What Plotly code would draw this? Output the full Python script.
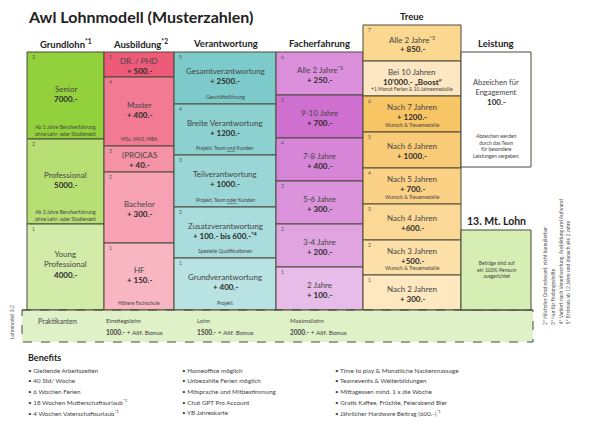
import plotly.graph_objects as go

# --- data -------------------------------------------------------------
grund_titles = ["Senior", "Professional", "Young<br>Professional"]
grund_amounts = ["7000.-", "5000.-", "4000.-"]
grund_notes = ["Ab 5 Jahre Berufserfahrung<br>ohne Lehr- oder Studienzeit",
               "Ab 3 Jahre Berufserfahrung<br>ohne Lehr- oder Studienzeit", ""]
grund_levels = [3, 2, 1]

ausb_titles = ["DR. / PHD", "Master", "(PRO)CAS", "Bachelor", "HF"]
ausb_amounts = ["+ 500.-", "+ 400.-", "+ 40.-", "+ 300.-", "+ 150.-"]
ausb_notes = ["", "MSc, MAS, MBA", "", "", "Höhere Fachschule"]
ausb_levels = [5, 4, 3, 2, 1]

ver_titles = ["Gesamtverantwortung", "Breite Verantwortung", "Teilverantwortung",
              "Zusatzverantwortung", "Grundverantwortung"]
ver_amounts = ["+ 2500.-", "+ 1200.-", "+ 1000.-", "+ 100.- bis 600.-<sup>*4</sup>", "+ 400.-"]
ver_notes = ["Geschäftsführung", "Projekt, Team <u>und</u> Kunden", "Projekt, Team <u>oder</u> Kunden",
             "Spezielle Qualifikationen", "Projekt"]
ver_levels = [5, 4, 3, 2, 1]

fach_titles = ["Alle 2 Jahre<sup>*5</sup>", "9-10 Jahre", "7-8 Jahre", "5-6 Jahre", "3-4 Jahre", "2 Jahre"]
fach_amounts = ["+ 250.-", "+ 700.-", "+ 400.-", "+ 300.-", "+ 200.-", "+ 100.-"]
fach_notes = ["", "", "", "", "", ""]
fach_levels = [6, 5, 4, 3, 2, 1]

treue_titles = ["Alle 2 Jahre<sup>*5</sup>", "Bei 10 Jahren", "Nach 7 Jahren", "Nach 6 Jahren",
                "Nach 5 Jahren", "Nach 4 Jahren", "Nach 3 Jahren", "Nach 2 Jahren"]
treue_amounts = ["+ 850.-", "10'000.- „Boost“", "+ 1200.-", "+ 1000.-", "+ 700.-", "+600.-", "+500.-", "+ 300.-"]
treue_notes = ["", "+1 Monat Ferien & 10 Jahresmedaille", "Wunsch & Treuemedaille", "",
               "Wunsch & Treuemedaille", "", "Wunsch & Treuemedaille", ""]
treue_levels = [7, "", 6, 5, 4, 3, 2, 1]

prakt_labels = ["Einstiegslohn", "Lohn", "Maximallohn"]
prakt_amounts = ["1000.-", "1500.-", "2000.-"]

benefits_1 = ["Gleitende Arbeitszeiten", "40 Std/ Woche", "6 Wochen Ferien",
              "18 Wochen Mutterschaftsurlaub<sup>*1</sup>", "4 Wochen Vaterschaftsurlaub<sup>*1</sup>"]
benefits_2 = ["Homeoffice möglich", "Unbezahlte Ferien möglich", "Mitsprache und Mitbestimmung",
              "Chat GPT Pro Account", "YB Jahreskarte"]
benefits_3 = ["Time to play & Monatliche Nackenmassage", "Teamevents & Weiterbildungen",
              "Mittagessen mind. 1 x die Woche", "Gratis Kaffee, Früchte, Feierabend Bier",
              "Jährlicher Hardware Beitrag (600.-)<sup>*1</sup>"]

footnotes = ["2* Höchster Grad relevant, nicht kumulierbar", "3* Nur für Festangestellte",
             "4* Variiert nach Verantwortung, Ausbildung und Aufwand",
             "5* Erstmals ab 12 Jahre und danach alle 2 Jahre"]

# --- styles -----------------------------------------------------------
FONT = "Lato"
DARK = "#2b2b2b"
BORDER = "#4a4a3a"
grund_colors = ["#93d13c", "#b7df74", "#d3eba8"]
ausb_colors = ["#ee5b78", "#f27a92", "#f592a6", "#f6a2b3", "#f8b5c2"]
ver_colors = ["#7dcaca", "#8cd0d0", "#9bd6d6", "#a9dcdc", "#b9e3e3"]
fach_colors = ["#dc8fdb", "#cf6fcf", "#d785d7", "#db94db", "#e0a4e0", "#e8bce8"]
treue_colors = ["#fbd890", "#fde7c2", "#f8c564", "#f9cb76", "#fbd186", "#fcd896", "#fde0a8", "#fde8bf"]

fig = go.Figure()
shapes = []
annots = []


def txt(x, y, s, size=8, bold=False, color=DARK, anchor="center", angle=0, yanchor="middle"):
    if bold:
        s = "<b>" + s + "</b>"
    annots.append(dict(x=x, y=y, text=s, showarrow=False, xanchor=anchor, yanchor=yanchor,
                       textangle=angle, font=dict(family=FONT, size=size, color=color)))


def column(x0, x1, edges, titles, amounts, notes, levels, colors):
    for i in range(len(titles)):
        y0, y1 = edges[i], edges[i + 1]
        shapes.append(dict(type="rect", x0=x0, x1=x1, y0=y0, y1=y1, fillcolor=colors[i],
                           line=dict(color=BORDER, width=1), layer="below"))
        c = (y0 + y1) / 2
        xc = (x0 + x1) / 2
        if levels[i] != "":
            txt(x0 + 3, y0 + 5, str(levels[i]), size=5, color="#555", anchor="left")
        n_lines = titles[i].count("<br>")
        off = 4 + 4 * n_lines
        if notes[i]:
            c -= 3
        txt(xc, c - off, titles[i], size=8, color="#444")
        txt(xc, c + 6 + 2 * n_lines, amounts[i], size=8, bold=True)
        if notes[i]:
            txt(xc, y1 - 7 - 2 * notes[i].count("<br>"), notes[i], size=5, color="#444")


column(27, 104, [52, 139, 224, 310], grund_titles, grund_amounts, grund_notes, grund_levels, grund_colors)
column(104, 174, [52, 77, 146, 172, 243, 310], ausb_titles, ausb_amounts, ausb_notes, ausb_levels, ausb_colors)
column(174, 276, [52, 104, 155, 207, 258, 310], ver_titles, ver_amounts, ver_notes, ver_levels, ver_colors)
column(276, 363, [52, 95, 138, 181, 224, 267, 310], fach_titles, fach_amounts, fach_notes, fach_levels, fach_colors)
column(363, 461, [25, 61, 96, 132, 168, 204, 240, 275, 310], treue_titles, treue_amounts, treue_notes,
       treue_levels, treue_colors)

# Leistung
shapes.append(dict(type="rect", x0=461, x1=531, y0=52, y1=167, fillcolor="white",
                   line=dict(color=BORDER, width=1)))
txt(496, 87, "Abzeichen für<br>Engagement", size=7.5, color="#444")
txt(496, 102, "100.-", size=8, bold=True)
txt(496, 146, "Abzeichen werden<br>durch das Team<br>für besondere<br>Leistungen vergeben.", size=5, color="#444")

# 13. Monatslohn
shapes.append(dict(type="rect", x0=461, x1=531, y0=230, y1=310, fillcolor="#d6eeb3",
                   line=dict(color=BORDER, width=1)))
txt(496, 269, "Beträge sind auf<br>ein 100% Pensum<br>ausgerichtet", size=5, color="#444")

# Praktikanten
shapes.append(dict(type="rect", x0=22, x1=533, y0=310, y1=342, fillcolor="#dff1c6",
                   line=dict(color=BORDER, width=1, dash="dash"), layer="below"))
shapes.append(dict(type="line", x0=22, x1=533, y0=310, y1=310, line=dict(color=BORDER, width=1.2)))
txt(57, 321, "Praktikanten", size=7, color="#444")
for i, xl in enumerate([104, 195, 288]):
    txt(xl, 320, prakt_labels[i], size=6, color="#444", anchor="left")
    txt(xl, 332, "<b>" + prakt_amounts[i] + "</b> + Allf. Bonus", size=6.5, color="#444", anchor="left")

# headers
txt(26, 16, "Awl Lohnmodell (Musterzahlen)", size=16, bold=True, color="#222", anchor="left")
for x, h in [(66, "Grundlohn<sup>*1</sup>"), (140, "Ausbildung<sup>*2</sup>"), (225, "Verantwortung"),
             (319, "Facherfahrung"), (496, "Leistung")]:
    txt(x, 43, h, size=9.5, bold=True, color="#222")
txt(412, 16, "Treue", size=9.5, bold=True, color="#222")
txt(496, 221, "13. Mt. Lohn", size=10.5, bold=True, color="#222")

txt(12, 322, "Lohnmodell 3.2", size=5, color="#555", angle=-90)
for i, f in enumerate(footnotes):
    txt(540 + i * 7.5, 327, f, size=5, color="#555", anchor="left", angle=-90, yanchor="bottom")

# benefits
txt(26, 357, "Benefits", size=9, bold=True, color="#222", anchor="left")
for xl, items in [(26, benefits_1), (180, benefits_2), (333, benefits_3)]:
    for j, b in enumerate(items):
        txt(xl, 370 + j * 10.7, "• " + b, size=6.3, color="#444", anchor="left")

fig.add_trace(go.Scatter(x=[8, 618], y=[8, 439], mode="markers", marker=dict(opacity=0),
                         hoverinfo="skip", showlegend=False))
fig.update_layout(
    width=610, height=431, margin=dict(l=0, r=0, t=0, b=0),
    paper_bgcolor="white", plot_bgcolor="white",
    xaxis=dict(range=[8, 618], visible=False, fixedrange=True),
    yaxis=dict(range=[439, 8], visible=False, fixedrange=True),
    shapes=shapes, annotations=annots, showlegend=False,
)
fig.write_html("out.html")
